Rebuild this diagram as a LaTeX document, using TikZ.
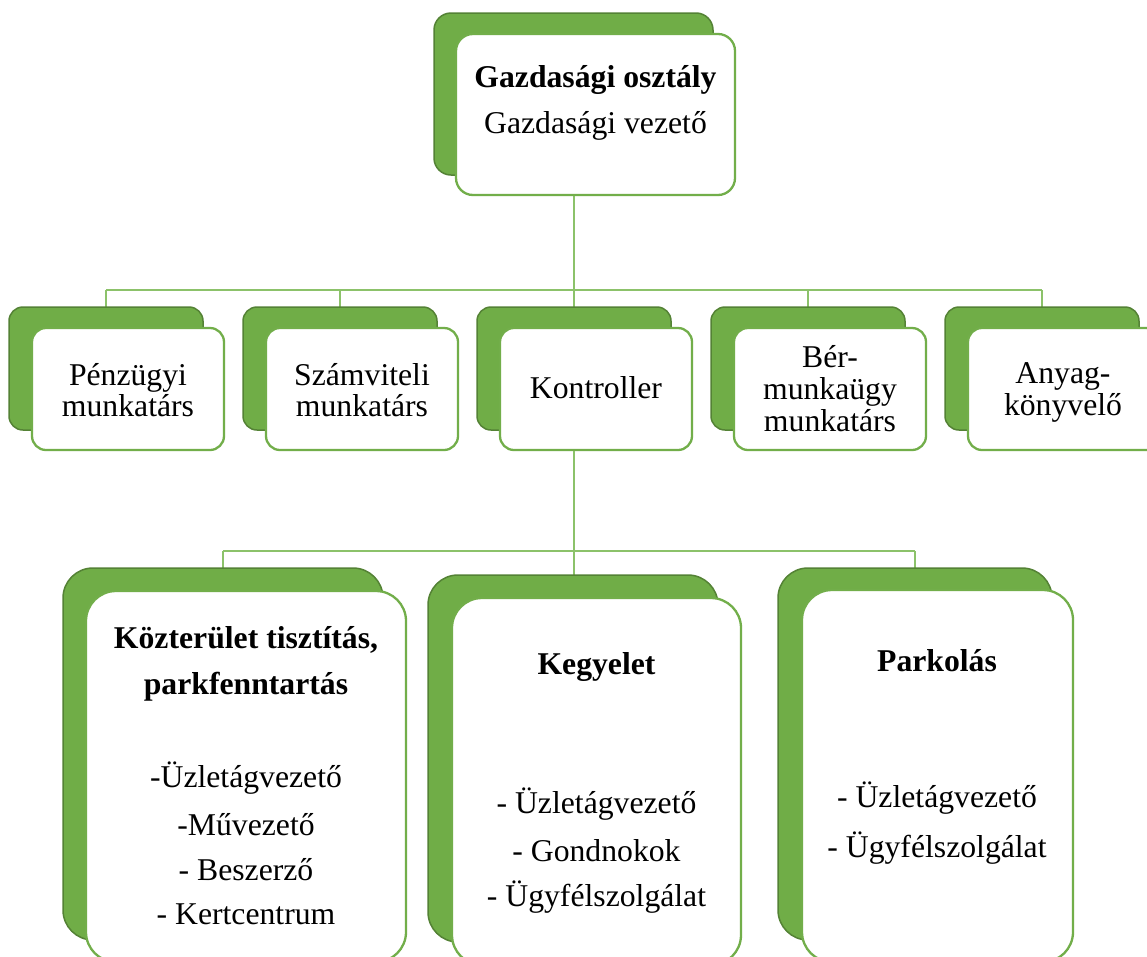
\documentclass[tikz,border=0pt]{standalone}
\usepackage{fontspec}
\setmainfont{Liberation Serif}
\definecolor{gfill}{HTML}{70AD47}
\definecolor{gdark}{HTML}{548235}
\definecolor{gedge}{HTML}{72AE4A}
\definecolor{gline}{HTML}{8CC26A}
\tikzset{
  back/.style={draw=gdark, fill=gfill, line width=1.5pt, rounded corners=#1, inner sep=0pt},
  back/.default=14pt,
  front/.style={draw=gedge, fill=white, line width=2.3pt, rounded corners=#1, inner sep=0pt},
  front/.default=14pt,
  conn/.style={draw=gline, line width=2pt},
  txt/.style={anchor=base, inner sep=0pt, font=\fontsize{31.7}{38}\selectfont},
  btxt/.style={anchor=base, inner sep=0pt, font=\fontsize{31.7}{38}\selectfont\bfseries}
}
\begin{document}
\begin{tikzpicture}[x=1pt,y=-1pt]
\useasboundingbox (0,0) rectangle (1147,956);
\clip (0,0) rectangle (1147,956);
\fill[white] (0,0) rectangle (1147,956);

% junction coordinates
\coordinate (j1) at (574,290);
\coordinate (j2) at (574,551);
\foreach \i/\cx in {1/106,2/340,3/574,4/808,5/1042}{
  \coordinate (c\i) at (\cx,307);
}
\coordinate (topS) at (574,195);

% ---- connectors from the top box ----
\draw[conn] (topS) -- (j1);
\draw[conn] (c1 |- j1) -- (c5 |- j1);
\foreach \i in {1,...,5}{ \draw[conn] (c\i |- j1) -- (c\i); }

% ---- top box ----
\node[back=17pt, minimum width=279pt, minimum height=162pt] (topB) at (573.5,94) {};
\node[front=17pt, minimum width=279pt, minimum height=161pt] (topF) at (595.5,114.5) {};
\node[btxt] (t1) at (595.5,87) {Gazdasági osztály};
\node[txt] (t2) at (595.5,133) {Gazdasági vezető};

% ---- row 2 boxes ----
\foreach \i/\cx in {1/106,2/340,3/574,4/808,5/1042}{
  \node[back=14pt, minimum width=194pt, minimum height=123pt] (p\i B) at (\cx,368.5) {};
  \node[front=14pt, minimum width=192pt, minimum height=122pt] (p\i F) at (\cx+22,389) {};
}

% ---- connectors below Kontroller ----
\coordinate (k1) at (223,568);
\coordinate (k2) at (573,575);
\coordinate (k3) at (915,568);
\draw[conn] (p3F.south -| j2) -- (j2 |- k2);
\draw[conn] (k1 |- j2) -- (k3 |- j2);
\draw[conn] (k1 |- j2) -- (k1);
\draw[conn] (k3 |- j2) -- (k3);

\node[txt] (a1) at (128,385) {Pénzügyi};
\node[txt] (a2) at (128,416) {munkatárs};
\node[txt] (b1) at (362,385) {Számviteli};
\node[txt] (b2) at (362,416) {munkatárs};
\node[txt] (c0) at (596,398) {Kontroller};
\node[txt] (d1) at (830,367) {Bér-};
\node[txt] (d2) at (830,399) {munkaügy};
\node[txt] (d3) at (830,431) {munkatárs};
\node[txt] (e1) at (1063,383) {Anyag-};
\node[txt] (e2) at (1063,415) {könyvelő};

% ---- row 3 boxes ----
\node[back=30pt, minimum width=320pt, minimum height=372pt] (qAB) at (223,754) {};
\node[front=30pt, minimum width=320pt, minimum height=371pt] (qAF) at (246,776.5) {};
\node[back=30pt, minimum width=290pt, minimum height=367pt] (qBB) at (573,758.5) {};
\node[front=30pt, minimum width=289pt, minimum height=367pt] (qBF) at (596.5,781.5) {};
\node[back=30pt, minimum width=274pt, minimum height=372pt] (qCB) at (915,754) {};
\node[front=30pt, minimum width=271pt, minimum height=372pt] (qCF) at (937.5,776) {};

\node[btxt] (f1) at (246,648) {Közterület tisztítás,};
\node[btxt] (f2) at (246,694) {parkfenntartás};
\node[txt] (f3) at (246,787) {-Üzletágvezető};
\node[txt] (f4) at (246,835) {-Művezető};
\node[txt] (f5) at (246,880) {- Beszerző};
\node[txt] (f6) at (246,924) {- Kertcentrum};

\node[btxt] (g1) at (596.5,674) {Kegyelet};
\node[txt] (g2) at (596.5,813) {- Üzletágvezető};
\node[txt] (g3) at (596.5,861) {- Gondnokok};
\node[txt] (g4) at (596.5,906) {- Ügyfélszolgálat};

\node[btxt] (h1) at (937,671) {Parkolás};
\node[txt] (h2) at (937,807) {- Üzletágvezető};
\node[txt] (h3) at (937,857) {- Ügyfélszolgálat};
\end{tikzpicture}
\end{document}
